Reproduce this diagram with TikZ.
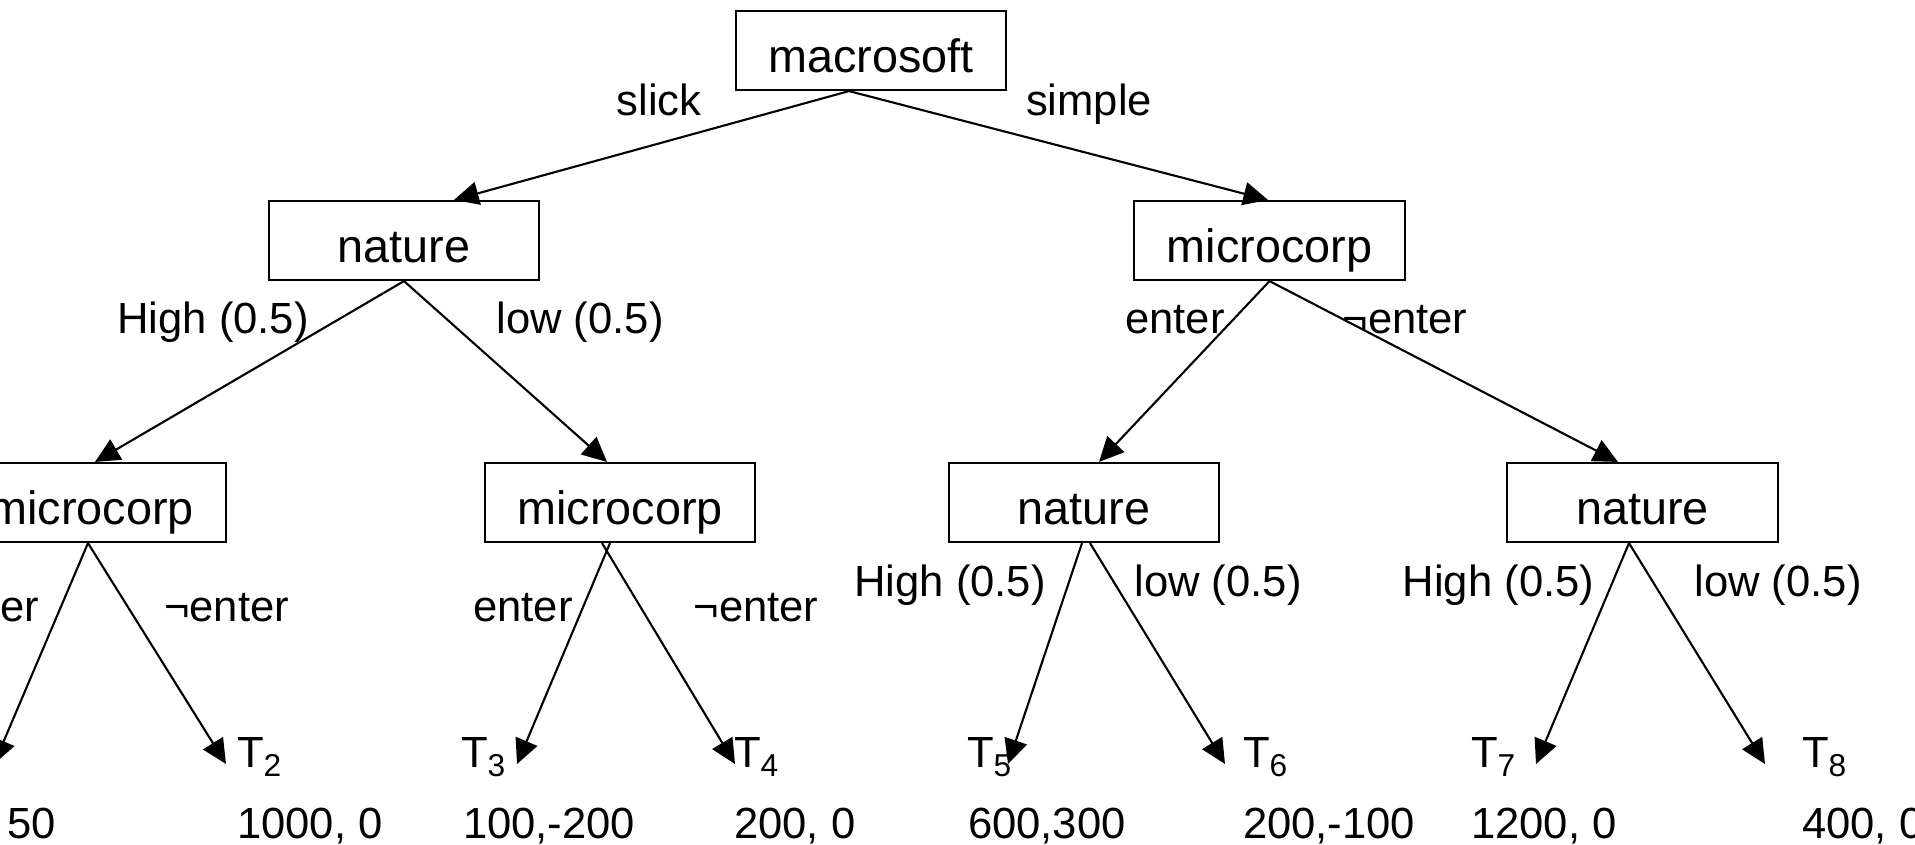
\documentclass[tikz,border=0pt]{standalone}
\usepackage{fontspec}
\setmainfont{Liberation Sans}
\usetikzlibrary{arrows.meta}
\usetikzlibrary{calc}
\newcommand{\tsub}[1]{T\raisebox{-2.8pt}{\fontsize{9}{10}\selectfont #1}}

\begin{document}
\begin{tikzpicture}[x=0.01cm, y=-0.01cm, line width=0.6pt,
  every node/.style={font=\fontsize{12.4}{14}\selectfont, inner sep=0pt},
  box/.style={draw, font=\fontsize{13.3}{15}\selectfont, text height=12.5pt, text depth=0pt,
    minimum width=2.7cm, minimum height=0.79cm},
  arr/.style={-{Triangle[length=7pt,width=6.6pt]}},
  lbl/.style={anchor=base},
  leaf/.style={anchor=base west}]
\useasboundingbox (0,0) rectangle (1915,844);
\node[box] (G0N0) at (871,50.5) {macrosoft};
\node[box] (G1N1) at (404,240.5) {nature};
\node[box] (G1N2) at (1269.5,240.5) {microcorp};
\node[box] (G2N1) at (91,502.5) {microcorp};
\node[box] (G2N2) at (620,502.5) {microcorp};
\node[box] (G2N3) at (1084,502.5) {nature};
\node[box] (G2N4) at (1642.5,502.5) {nature};
\coordinate (T1) at (-6,764);
\coordinate (T2) at (226,764);
\coordinate (T3) at (517,764);
\coordinate (T4) at (735,764);
\coordinate (T5) at (1008,764);
\coordinate (T6) at (1225,764);
\coordinate (T7) at (1536,764);
\coordinate (T8) at (1765,764);
\draw[arr] ($(G0N0.south)+(-22,0)$) -- ($(G1N1.north)+(50,0)$);
\draw[arr] ($(G0N0.south)+(-22,0)$) -- ($(G1N2.north)+(-1.5,0)$);
\draw[arr] (G1N1.south) -- ($(G2N1.north)+(4,0)$);
\draw[arr] (G1N1.south) -- ($(G2N2.north)+(-13,0)$);
\draw[arr] (G1N2.south) -- ($(G2N3.north)+(15,0)$);
\draw[arr] (G1N2.south) -- ($(G2N4.north)+(-24.5,0)$);
\draw[arr] ($(G2N1.south)+(-3,0)$) -- (T1);
\draw[arr] ($(G2N1.south)+(-3,0)$) -- (T2);
\draw[arr] ($(G2N2.south)+(-10,0)$) -- (T3);
\draw[arr] ($(G2N2.south)+(-18,0)$) -- (T4);
\draw[arr] ($(G2N3.south)+(-2,0)$) -- (T5);
\draw[arr] ($(G2N3.south)+(6,0)$) -- (T6);
\draw[arr] ($(G2N4.south)+(-13.5,0)$) -- (T7);
\draw[arr] ($(G2N4.south)+(-13.5,0)$) -- (T8);
% edge labels
\node[lbl] (E01) at (659,115) {slick};
\node[lbl] (E02) at (1089,115) {simple};
\node[lbl] (E11) at (213,333) {High (0.5)};
\node[lbl] (E12) at (580,333) {low (0.5)};
\node[lbl] (E13) at (1175,333) {enter};
\node[lbl] (E14) at (1405,333) {¬enter};
\node[anchor=base east] (E21) at (40,621) {ter};
\node[lbl] (E22) at (226.5,621) {¬enter};
\node[lbl] (E23) at (523,621) {enter};
\node[lbl] (E24) at (756,621) {¬enter};
\node[lbl] (E25) at (950,596) {High (0.5)};
\node[lbl] (E26) at (1218,596) {low (0.5)};
\node[lbl] (E27) at (1498.5,596) {High (0.5)};
\node[lbl] (E28) at (1778,596) {low (0.5)};
% terminals and payoffs
\node[leaf] (L2) at (236,767) {\tsub{2}};
\node[leaf] (L3) at (460,767) {\tsub{3}};
\node[leaf] (L4) at (733,767) {\tsub{4}};
\node[leaf] (L5) at (966,767) {\tsub{5}};
\node[leaf] (L6) at (1242,767) {\tsub{6}};
\node[leaf] (L7) at (1470,767) {\tsub{7}};
\node[leaf] (L8) at (1801,767) {\tsub{8}};
\node[leaf] (P1) at (6,838) {50};
\node[leaf] (P2) at (236,838) {1000, 0};
\node[leaf] (P3) at (462,838) {100,-200};
\node[leaf] (P4) at (733,838) {200, 0};
\node[leaf] (P5) at (967,838) {600,300};
\node[leaf] (P6) at (1242,838) {200,-100};
\node[leaf] (P7) at (1470,838) {1200, 0};
\node[leaf] (P8) at (1801,838) {400, 0};
\end{tikzpicture}
\end{document}
